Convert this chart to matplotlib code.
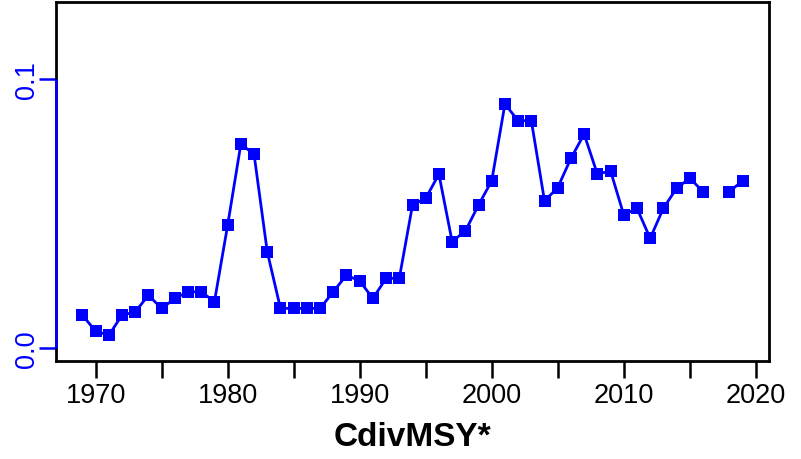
import numpy as np
import matplotlib
matplotlib.use("Agg")
import matplotlib.pyplot as plt
import matplotlib.transforms as mtransforms

# Data
years = list(range(1969, 2020))
cdiv_msy = [
    0.0122, 0.0062, 0.0047, 0.0122, 0.0134, 0.0196, 0.0147, 0.0184, 0.0209, 0.0209,
    0.0172, 0.0457, 0.0759, 0.0721, 0.0358, 0.0147, 0.0147, 0.0147, 0.0147, 0.0209,
    0.0271, 0.0249, 0.0184, 0.0259, 0.0259, 0.0532, 0.0557, 0.0647, 0.0396, 0.0435,
    0.0532, 0.0622, 0.0908, 0.0846, 0.0846, 0.0547, 0.0597, 0.0706, 0.0796, 0.0647,
    0.0659, 0.0495, 0.0520, 0.0408, 0.0520, 0.0594, 0.0632, 0.0582, np.nan, 0.0582,
    0.0622,
]
x_ticks = list(range(1970, 2021, 5))
x_labels = [str(y) if y % 10 == 0 else "" for y in x_ticks]
y_ticks = [0.0, 0.1]
y_labels = ["0.0", "0.1"]
title = "CdivMSY*"

plt.rcParams['font.family'] = ['Liberation Sans', 'DejaVu Sans']

fig = plt.figure(figsize=(8.01, 4.6), dpi=100)
ax = fig.add_axes([56 / 801, 1 - 361.5 / 460, (769 - 56) / 801, (361.5 - 3) / 460])

ax.plot(years, cdiv_msy, color="#0000FF", lw=2.0, marker="s", ms=9.2,
        markeredgewidth=0, solid_joinstyle="miter")

ax.set_xlim(1967, 2021)
ax.set_ylim(-0.0047, 0.1288)

for s in ax.spines.values():
    s.set_linewidth(2.0)
    s.set_color("black")

ax.set_xticks(x_ticks)
ax.set_xticklabels(x_labels)
ax.tick_params(axis="x", length=12, width=1.8, pad=3.5, labelsize=19.5, colors="black")

ax.set_yticks(y_ticks)
ax.set_yticklabels(y_labels, rotation=90, va="center")
ax.tick_params(axis="y", length=12.5, width=1.8, pad=-1, labelsize=19.5,
               colors="#0000FF")

# blue axis line from 0 to 0.1 on top of the box
trans = mtransforms.blended_transform_factory(ax.transAxes, ax.transData)
ax.plot([0, 0], [0.0, 0.1], transform=trans, color="#0000FF", lw=2.0,
        clip_on=False, zorder=5, solid_capstyle="butt")

fig.text((56 + 769) / 2 / 801, 1 - 438 / 460, title, ha="center", va="center",
         fontsize=24, fontweight="bold")

fig.savefig("out.png", dpi=100)
